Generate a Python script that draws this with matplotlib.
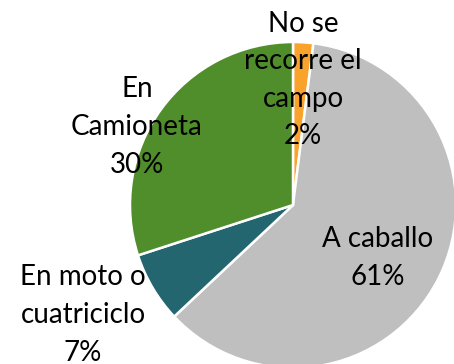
import matplotlib.pyplot as plt

# Forma de recorrer el campo
etiquetas = ['No se\nrecorre el\ncampo', 'A caballo', 'En moto o\ncuatriciclo', 'En\nCamioneta']
porcentajes = [2, 61, 7, 30]
colores = ['#F9A32C', '#BFBFBF', '#23666F', '#4F8E2B']

# posiciones de los textos (x, y en pixeles desde arriba)
pos_textos = [(303, 80), (378, 258), (83, 315), (137, 127)]

W, H = 454, 364
fig = plt.figure(figsize=(W / 100, H / 100), dpi=100)
ax = fig.add_axes([0, 0, 1, 1])

ax.pie(porcentajes, colors=colores, startangle=90, counterclock=False,
       center=(293, H - 205), radius=163,
       wedgeprops={'edgecolor': 'white', 'linewidth': 1.8})

for etq, p, (x, y) in zip(etiquetas, porcentajes, pos_textos):
    ax.text(x, H - y, '%s\n%d%%' % (etq, p), ha='center', va='center',
            fontsize=20, family=['Lato', 'DejaVu Sans'], linespacing=1.55,
            color='black')

ax.set_xlim(0, W)
ax.set_ylim(0, H)
ax.set_aspect('equal')
ax.axis('off')

plt.savefig('out.png', dpi=100)
